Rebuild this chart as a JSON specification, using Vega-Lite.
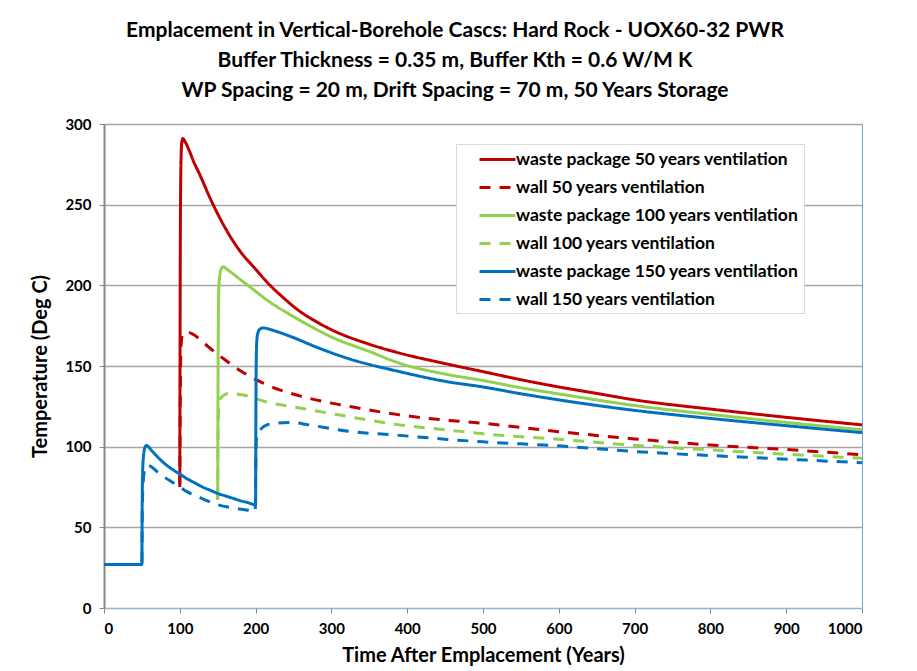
{
  "$schema": "https://vega.github.io/schema/vega-lite/v6.json",
  "width": 758,
  "height": 484,
  "autosize": {"type": "none"},
  "padding": {"left": 104, "top": 124, "right": 55, "bottom": 63},
  "background": "white",
  "title": {
    "text": ["Emplacement in Vertical-Borehole Cascs: Hard Rock - UOX60-32 PWR", "Buffer Thickness = 0.35 m, Buffer Kth = 0.6 W/M K", "WP Spacing = 20 m, Drift Spacing = 70 m, 50 Years Storage"],
    "font": "Lato",
    "fontSize": 21,
    "fontWeight": "bold",
    "color": "black",
    "lineHeight": 30,
    "anchor": "middle",
    "dx": -28,
    "offset": 16
  },
  "config": {
    "font": "Lato",
    "view": {"stroke": "#6fa0d8", "strokeWidth": 1},
    "axis": {
      "labelFont": "Lato",
      "labelFontWeight": "bold",
      "labelFontSize": 15,
      "labelColor": "black",
      "titleFont": "Lato",
      "titleFontWeight": "bold",
      "titleFontSize": 20,
      "titleColor": "black"
    }
  },
  "data": {
    "values": [
      {"series": "waste package 50 years ventilation", "t": 100, "v": 77},
      {"series": "waste package 50 years ventilation", "t": 100.3, "v": 150},
      {"series": "waste package 50 years ventilation", "t": 100.7, "v": 230},
      {"series": "waste package 50 years ventilation", "t": 101.5, "v": 275},
      {"series": "waste package 50 years ventilation", "t": 102.5, "v": 288},
      {"series": "waste package 50 years ventilation", "t": 104, "v": 291},
      {"series": "waste package 50 years ventilation", "t": 107, "v": 289},
      {"series": "waste package 50 years ventilation", "t": 112, "v": 284},
      {"series": "waste package 50 years ventilation", "t": 118, "v": 277},
      {"series": "waste package 50 years ventilation", "t": 127, "v": 268},
      {"series": "waste package 50 years ventilation", "t": 140, "v": 254},
      {"series": "waste package 50 years ventilation", "t": 157, "v": 238},
      {"series": "waste package 50 years ventilation", "t": 179, "v": 221.5},
      {"series": "waste package 50 years ventilation", "t": 200, "v": 210},
      {"series": "waste package 50 years ventilation", "t": 215, "v": 202},
      {"series": "waste package 50 years ventilation", "t": 235, "v": 193},
      {"series": "waste package 50 years ventilation", "t": 258, "v": 184},
      {"series": "waste package 50 years ventilation", "t": 280, "v": 177.5},
      {"series": "waste package 50 years ventilation", "t": 300, "v": 172.5},
      {"series": "waste package 50 years ventilation", "t": 350, "v": 163.5},
      {"series": "waste package 50 years ventilation", "t": 390, "v": 158},
      {"series": "waste package 50 years ventilation", "t": 450, "v": 151.5},
      {"series": "waste package 50 years ventilation", "t": 500, "v": 146.5},
      {"series": "waste package 50 years ventilation", "t": 550, "v": 141.5},
      {"series": "waste package 50 years ventilation", "t": 600, "v": 137},
      {"series": "waste package 50 years ventilation", "t": 650, "v": 133},
      {"series": "waste package 50 years ventilation", "t": 700, "v": 129},
      {"series": "waste package 50 years ventilation", "t": 800, "v": 123.3},
      {"series": "waste package 50 years ventilation", "t": 900, "v": 118.2},
      {"series": "waste package 50 years ventilation", "t": 1000, "v": 113.5},

      {"series": "wall 50 years ventilation", "t": 100, "v": 75},
      {"series": "wall 50 years ventilation", "t": 100.5, "v": 120},
      {"series": "wall 50 years ventilation", "t": 101, "v": 150},
      {"series": "wall 50 years ventilation", "t": 102, "v": 165},
      {"series": "wall 50 years ventilation", "t": 104, "v": 170},
      {"series": "wall 50 years ventilation", "t": 110, "v": 171},
      {"series": "wall 50 years ventilation", "t": 118, "v": 169.5},
      {"series": "wall 50 years ventilation", "t": 130, "v": 165},
      {"series": "wall 50 years ventilation", "t": 140, "v": 161},
      {"series": "wall 50 years ventilation", "t": 160, "v": 153.7},
      {"series": "wall 50 years ventilation", "t": 182, "v": 146.5},
      {"series": "wall 50 years ventilation", "t": 206, "v": 140.3},
      {"series": "wall 50 years ventilation", "t": 230, "v": 135.5},
      {"series": "wall 50 years ventilation", "t": 258, "v": 131.5},
      {"series": "wall 50 years ventilation", "t": 300, "v": 127},
      {"series": "wall 50 years ventilation", "t": 323, "v": 125},
      {"series": "wall 50 years ventilation", "t": 390, "v": 119.7},
      {"series": "wall 50 years ventilation", "t": 450, "v": 116.5},
      {"series": "wall 50 years ventilation", "t": 500, "v": 114.5},
      {"series": "wall 50 years ventilation", "t": 600, "v": 109.3},
      {"series": "wall 50 years ventilation", "t": 700, "v": 104.8},
      {"series": "wall 50 years ventilation", "t": 800, "v": 101},
      {"series": "wall 50 years ventilation", "t": 894, "v": 98.4},
      {"series": "wall 50 years ventilation", "t": 1000, "v": 95},

      {"series": "waste package 100 years ventilation", "t": 150, "v": 67},
      {"series": "waste package 100 years ventilation", "t": 150.3, "v": 120},
      {"series": "waste package 100 years ventilation", "t": 150.8, "v": 175},
      {"series": "waste package 100 years ventilation", "t": 151.5, "v": 198},
      {"series": "waste package 100 years ventilation", "t": 153, "v": 207},
      {"series": "waste package 100 years ventilation", "t": 155, "v": 210.5},
      {"series": "waste package 100 years ventilation", "t": 157.5, "v": 211.5},
      {"series": "waste package 100 years ventilation", "t": 162, "v": 210},
      {"series": "waste package 100 years ventilation", "t": 170.6, "v": 207},
      {"series": "waste package 100 years ventilation", "t": 180, "v": 203.5},
      {"series": "waste package 100 years ventilation", "t": 192.6, "v": 199},
      {"series": "waste package 100 years ventilation", "t": 214.6, "v": 191},
      {"series": "waste package 100 years ventilation", "t": 250, "v": 180.6},
      {"series": "waste package 100 years ventilation", "t": 275, "v": 174},
      {"series": "waste package 100 years ventilation", "t": 300, "v": 168},
      {"series": "waste package 100 years ventilation", "t": 350, "v": 159},
      {"series": "waste package 100 years ventilation", "t": 390, "v": 151.7},
      {"series": "waste package 100 years ventilation", "t": 450, "v": 145},
      {"series": "waste package 100 years ventilation", "t": 500, "v": 141},
      {"series": "waste package 100 years ventilation", "t": 550, "v": 136.5},
      {"series": "waste package 100 years ventilation", "t": 600, "v": 132.7},
      {"series": "waste package 100 years ventilation", "t": 700, "v": 125.5},
      {"series": "waste package 100 years ventilation", "t": 800, "v": 120},
      {"series": "waste package 100 years ventilation", "t": 900, "v": 115},
      {"series": "waste package 100 years ventilation", "t": 1000, "v": 110.5},

      {"series": "wall 100 years ventilation", "t": 150, "v": 67},
      {"series": "wall 100 years ventilation", "t": 150.5, "v": 110},
      {"series": "wall 100 years ventilation", "t": 151.5, "v": 125},
      {"series": "wall 100 years ventilation", "t": 153, "v": 129.5},
      {"series": "wall 100 years ventilation", "t": 157, "v": 131.5},
      {"series": "wall 100 years ventilation", "t": 164, "v": 133},
      {"series": "wall 100 years ventilation", "t": 175, "v": 132.7},
      {"series": "wall 100 years ventilation", "t": 184, "v": 132},
      {"series": "wall 100 years ventilation", "t": 212, "v": 128},
      {"series": "wall 100 years ventilation", "t": 258, "v": 124},
      {"series": "wall 100 years ventilation", "t": 300, "v": 120.5},
      {"series": "wall 100 years ventilation", "t": 390, "v": 113.5},
      {"series": "wall 100 years ventilation", "t": 450, "v": 110.5},
      {"series": "wall 100 years ventilation", "t": 500, "v": 108},
      {"series": "wall 100 years ventilation", "t": 600, "v": 104.6},
      {"series": "wall 100 years ventilation", "t": 700, "v": 100.8},
      {"series": "wall 100 years ventilation", "t": 800, "v": 98},
      {"series": "wall 100 years ventilation", "t": 894, "v": 95.5},
      {"series": "wall 100 years ventilation", "t": 1000, "v": 92.8},

      {"series": "waste package 150 years ventilation", "t": 0, "v": 27},
      {"series": "waste package 150 years ventilation", "t": 50, "v": 27},
      {"series": "waste package 150 years ventilation", "t": 50.3, "v": 60},
      {"series": "waste package 150 years ventilation", "t": 51, "v": 85},
      {"series": "waste package 150 years ventilation", "t": 52.5, "v": 96},
      {"series": "waste package 150 years ventilation", "t": 54, "v": 99.5},
      {"series": "waste package 150 years ventilation", "t": 56, "v": 100.8},
      {"series": "waste package 150 years ventilation", "t": 58, "v": 100.3},
      {"series": "waste package 150 years ventilation", "t": 62, "v": 98},
      {"series": "waste package 150 years ventilation", "t": 70, "v": 94},
      {"series": "waste package 150 years ventilation", "t": 80, "v": 89.5},
      {"series": "waste package 150 years ventilation", "t": 90, "v": 86},
      {"series": "waste package 150 years ventilation", "t": 100, "v": 83},
      {"series": "waste package 150 years ventilation", "t": 110, "v": 80},
      {"series": "waste package 150 years ventilation", "t": 120, "v": 77.5},
      {"series": "waste package 150 years ventilation", "t": 130, "v": 75},
      {"series": "waste package 150 years ventilation", "t": 140, "v": 73},
      {"series": "waste package 150 years ventilation", "t": 150, "v": 71},
      {"series": "waste package 150 years ventilation", "t": 160, "v": 69.5},
      {"series": "waste package 150 years ventilation", "t": 170, "v": 68},
      {"series": "waste package 150 years ventilation", "t": 180, "v": 66.5},
      {"series": "waste package 150 years ventilation", "t": 190, "v": 65.3},
      {"series": "waste package 150 years ventilation", "t": 200, "v": 64},
      {"series": "waste package 150 years ventilation", "t": 200.3, "v": 110},
      {"series": "waste package 150 years ventilation", "t": 200.8, "v": 150},
      {"series": "waste package 150 years ventilation", "t": 201.5, "v": 165},
      {"series": "waste package 150 years ventilation", "t": 203, "v": 170.5},
      {"series": "waste package 150 years ventilation", "t": 206, "v": 173},
      {"series": "waste package 150 years ventilation", "t": 210, "v": 173.6},
      {"series": "waste package 150 years ventilation", "t": 215, "v": 173.2},
      {"series": "waste package 150 years ventilation", "t": 225, "v": 171.8},
      {"series": "waste package 150 years ventilation", "t": 245, "v": 168.5},
      {"series": "waste package 150 years ventilation", "t": 284, "v": 161},
      {"series": "waste package 150 years ventilation", "t": 323, "v": 154.5},
      {"series": "waste package 150 years ventilation", "t": 390, "v": 146.5},
      {"series": "waste package 150 years ventilation", "t": 450, "v": 140.5},
      {"series": "waste package 150 years ventilation", "t": 500, "v": 137},
      {"series": "waste package 150 years ventilation", "t": 550, "v": 132.8},
      {"series": "waste package 150 years ventilation", "t": 600, "v": 129},
      {"series": "waste package 150 years ventilation", "t": 700, "v": 122.5},
      {"series": "waste package 150 years ventilation", "t": 800, "v": 117.5},
      {"series": "waste package 150 years ventilation", "t": 900, "v": 113},
      {"series": "waste package 150 years ventilation", "t": 1000, "v": 108.7},

      {"series": "wall 150 years ventilation", "t": 0, "v": 27},
      {"series": "wall 150 years ventilation", "t": 50, "v": 27},
      {"series": "wall 150 years ventilation", "t": 50.5, "v": 60},
      {"series": "wall 150 years ventilation", "t": 52, "v": 80},
      {"series": "wall 150 years ventilation", "t": 54, "v": 86},
      {"series": "wall 150 years ventilation", "t": 57, "v": 88.5},
      {"series": "wall 150 years ventilation", "t": 61, "v": 88},
      {"series": "wall 150 years ventilation", "t": 70, "v": 84.5},
      {"series": "wall 150 years ventilation", "t": 80, "v": 81},
      {"series": "wall 150 years ventilation", "t": 90, "v": 78},
      {"series": "wall 150 years ventilation", "t": 100, "v": 75},
      {"series": "wall 150 years ventilation", "t": 110, "v": 72},
      {"series": "wall 150 years ventilation", "t": 131, "v": 67.5},
      {"series": "wall 150 years ventilation", "t": 150, "v": 64},
      {"series": "wall 150 years ventilation", "t": 170, "v": 62},
      {"series": "wall 150 years ventilation", "t": 188, "v": 60.8},
      {"series": "wall 150 years ventilation", "t": 199.5, "v": 60},
      {"series": "wall 150 years ventilation", "t": 200.3, "v": 90},
      {"series": "wall 150 years ventilation", "t": 201, "v": 104},
      {"series": "wall 150 years ventilation", "t": 203, "v": 108.5},
      {"series": "wall 150 years ventilation", "t": 207, "v": 111},
      {"series": "wall 150 years ventilation", "t": 215, "v": 113.5},
      {"series": "wall 150 years ventilation", "t": 230, "v": 114.7},
      {"series": "wall 150 years ventilation", "t": 247, "v": 115},
      {"series": "wall 150 years ventilation", "t": 270, "v": 113.5},
      {"series": "wall 150 years ventilation", "t": 323, "v": 109.5},
      {"series": "wall 150 years ventilation", "t": 390, "v": 107},
      {"series": "wall 150 years ventilation", "t": 453, "v": 104.5},
      {"series": "wall 150 years ventilation", "t": 500, "v": 103},
      {"series": "wall 150 years ventilation", "t": 600, "v": 100.5},
      {"series": "wall 150 years ventilation", "t": 700, "v": 97},
      {"series": "wall 150 years ventilation", "t": 800, "v": 94.5},
      {"series": "wall 150 years ventilation", "t": 894, "v": 92.4},
      {"series": "wall 150 years ventilation", "t": 1000, "v": 90}
    ]
  },
  "mark": {"type": "line", "strokeWidth": 3, "strokeCap": "butt", "strokeJoin": "round", "interpolate": "monotone", "clip": true},
  "encoding": {
    "x": {
      "field": "t",
      "type": "quantitative",
      "scale": {"domain": [0, 1000], "nice": false, "zero": false},
      "axis": {
        "title": "Time After Emplacement (Years)",
        "values": [0, 100, 200, 300, 400, 500, 600, 700, 800, 900, 1000],
        "format": "d",
        "grid": false,
        "domainColor": "#8eb4e3",
        "domainWidth": 1,
        "tickColor": "#868686",
        "tickSize": 5,
        "labelPadding": 8,
        "titlePadding": 9
      }
    },
    "y": {
      "field": "v",
      "type": "quantitative",
      "scale": {"domain": [0, 300], "nice": false},
      "axis": {
        "title": "Temperature (Deg C)",
        "values": [0, 50, 100, 150, 200, 250, 300],
        "grid": true,
        "gridColor": "#a6a6a6",
        "gridWidth": 1.5,
        "domainColor": "#868686",
        "domainWidth": 2,
        "tickColor": "#868686",
        "tickSize": 5,
        "labelPadding": 8,
        "titlePadding": 14
      }
    },
    "color": {
      "field": "series",
      "type": "nominal",
      "scale": {
        "domain": ["waste package 50 years ventilation", "wall 50 years ventilation", "waste package 100 years ventilation", "wall 100 years ventilation", "waste package 150 years ventilation", "wall 150 years ventilation"],
        "range": ["#c00000", "#c00000", "#92d050", "#92d050", "#0070c0", "#0070c0"]
      },
      "legend": {
        "title": null,
        "orient": "none",
        "legendX": 352,
        "legendY": 20,
        "symbolType": "M-2,0H2",
        "symbolSize": 324,
        "symbolStrokeWidth": 3,
        "symbolFillColor": "transparent",
        "symbolOffset": 26,
        "labelFont": "Lato",
        "labelFontSize": 17.5,
        "labelFontWeight": "bold",
        "labelColor": "black",
        "labelLimit": 400,
        "labelOffset": 8,
        "rowPadding": 9,
        "padding": 5,
        "strokeColor": "#d9d9d9",
        "fillColor": "white"
      }
    },
    "strokeDash": {
      "field": "series",
      "type": "nominal",
      "scale": {
        "domain": ["waste package 50 years ventilation", "wall 50 years ventilation", "waste package 100 years ventilation", "wall 100 years ventilation", "waste package 150 years ventilation", "wall 150 years ventilation"],
        "range": [[1, 0], [11, 9], [1, 0], [11, 9], [1, 0], [11, 9]]
      }
    }
  }
}
